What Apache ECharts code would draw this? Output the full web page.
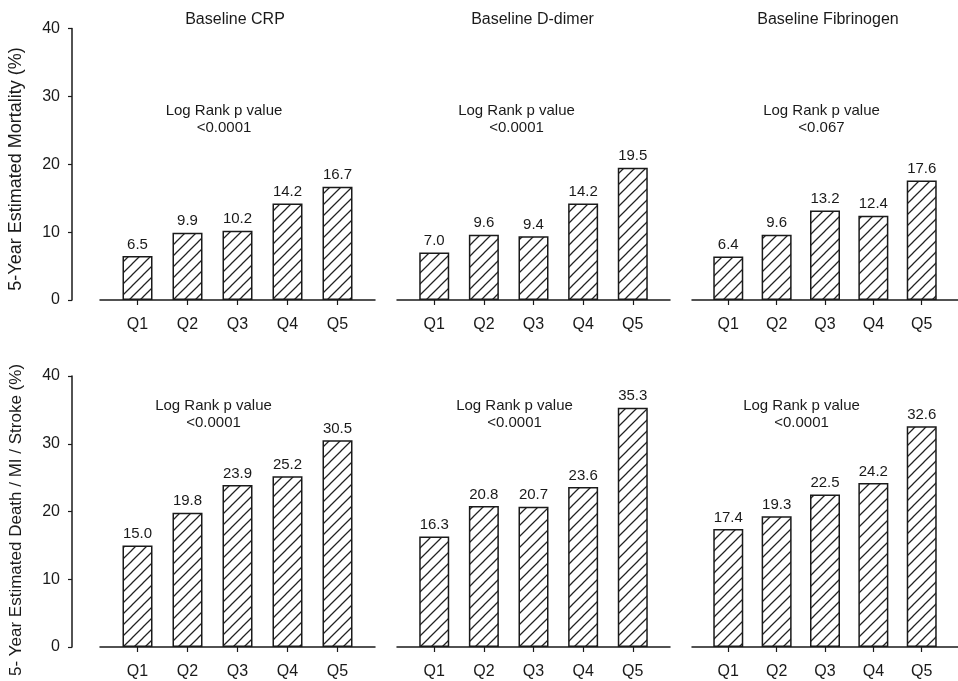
<!DOCTYPE html>
<html>
<head>
<meta charset="utf-8">
<script src="https://cdn.jsdelivr.net/npm/echarts@6/dist/echarts.min.js"></script>
<style>
  html, body { margin: 0; padding: 0; background: #fff; }
  #chart { width: 958px; height: 681px; }
</style>
</head>
<body>
<div id="chart"></div>
<script>
// Quintile categories and 5-year estimates (%) per biomarker
const categories = ['Q1', 'Q2', 'Q3', 'Q4', 'Q5'];
const panelTitles = ['Baseline CRP', 'Baseline D-dimer', 'Baseline Fibrinogen'];

const mortalityCRP = [6.5, 9.9, 10.2, 14.2, 16.7];
const mortalityDdimer = [7.0, 9.6, 9.4, 14.2, 19.5];
const mortalityFibrinogen = [6.4, 9.6, 13.2, 12.4, 17.6];

const compositeCRP = [15.0, 19.8, 23.9, 25.2, 30.5];
const compositeDdimer = [16.3, 20.8, 20.7, 23.6, 35.3];
const compositeFibrinogen = [17.4, 19.3, 22.5, 24.2, 32.6];

const mortalityPValues = ['<0.0001', '<0.0001', '<0.067'];
const compositePValues = ['<0.0001', '<0.0001', '<0.0001'];

const yTitles = ['5-Year Estimated Mortality (%)', '5- Year Estimated Death / MI / Stroke (%)'];

const FONT = '"Liberation Sans", Arial, Helvetica, sans-serif';
const INK = '#1a1a1a';

// Diagonal hatch tile used as the bar fill
function hatchTile() {
  const s = 11;
  const c = document.createElement('canvas');
  c.width = s; c.height = s;
  const g = c.getContext('2d');
  g.fillStyle = '#fff';
  g.fillRect(0, 0, s, s);
  g.strokeStyle = '#222';
  g.lineWidth = 1.25;
  g.beginPath();
  g.moveTo(-1, s + 1); g.lineTo(s + 1, -1);
  g.moveTo(-1, 1); g.lineTo(1, -1);
  g.moveTo(s - 1, s + 1); g.lineTo(s + 1, s - 1);
  g.stroke();
  return c;
}
const hatch = { image: hatchTile(), repeat: 'repeat' };

// Two rows (outcomes) by three columns (biomarkers)
const rows = [
  { top: 28.5, height: 271.5, series: [mortalityCRP, mortalityDdimer, mortalityFibrinogen], p: mortalityPValues, pY: 119.5, titleY: 169, titleSize: 18 },
  { top: 376, height: 271, series: [compositeCRP, compositeDdimer, compositeFibrinogen], p: compositePValues, pY: 414, titleY: 520, titleSize: 17 }
];
const cols = [
  { left: 100, width: 275, pX: [224, 213.5] },
  { left: 397, width: 273, pX: [516.5, 514.5] },
  { left: 692, width: 273, pX: [821.5, 801.5] }
];
const titleX = [235, 532.5, 828];

const grid = [], xAxis = [], yAxis = [], series = [], graphic = [];

rows.forEach((row, r) => {
  cols.forEach((col, c) => {
    const idx = grid.length;
    grid.push({ left: col.left, width: col.width, top: row.top, height: row.height, containLabel: false });
    xAxis.push({
      type: 'value', gridIndex: idx, min: 0.25, max: 5.75,
      axisLine: { show: true, lineStyle: { color: INK, width: 1.5 } },
      axisTick: { show: true, customValues: [1, 2, 3, 4, 5], length: 5, lineStyle: { color: INK, width: 1.2 } },
      axisLabel: {
        customValues: [1, 2, 3, 4, 5], margin: 17,
        formatter: v => categories[Math.round(v) - 1],
        fontFamily: FONT, fontSize: 16, color: INK
      },
      splitLine: { show: false }
    });
    yAxis.push({
      type: 'value', gridIndex: idx, min: 0, max: 40, interval: 10,
      show: c === 0,
      offset: c === 0 ? 28 : 0,
      axisLine: { show: true, lineStyle: { color: INK, width: 1.5 } },
      axisTick: { show: true, length: 4, lineStyle: { color: INK, width: 1.2 } },
      axisLabel: { margin: 12, fontFamily: FONT, fontSize: 16, color: INK },
      splitLine: { show: false }
    });
    series.push({
      type: 'bar', xAxisIndex: idx, yAxisIndex: idx,
      data: categories.map((q, i) => [i + 1, row.series[c][i]]),
      barWidth: 30,
      itemStyle: { color: hatch, borderColor: INK, borderWidth: 1.5 },
      label: {
        show: true, position: 'top', distance: 4,
        formatter: p => p.value[1].toFixed(1),
        fontFamily: FONT, fontSize: 15, color: INK
      },
      emphasis: { disabled: true },
      silent: true,
      animation: false
    });
    graphic.push({
      type: 'text', x: col.pX[r], y: row.pY,
      style: { text: 'Log Rank p value\n' + row.p[c], textAlign: 'center', textVerticalAlign: 'middle',
               font: '15px ' + FONT, fill: INK, lineHeight: 17 }
    });
  });
  // Rotated outcome title to the left of each row
  graphic.push({
    type: 'text', x: 16.5, y: row.titleY, rotation: Math.PI / 2,
    style: { text: yTitles[r], textAlign: 'center', textVerticalAlign: 'middle',
             font: row.titleSize + 'px ' + FONT, fill: INK }
  });
});

panelTitles.forEach((t, c) => {
  graphic.push({
    type: 'text', x: titleX[c], y: 20,
    style: { text: t, textAlign: 'center', textVerticalAlign: 'middle', font: '16px ' + FONT, fill: INK }
  });
});

const chart = echarts.init(document.getElementById('chart'), null, { renderer: 'canvas' });
chart.setOption({
  backgroundColor: '#fff',
  animation: false,
  grid, xAxis, yAxis, series, graphic
});
</script>
</body>
</html>
